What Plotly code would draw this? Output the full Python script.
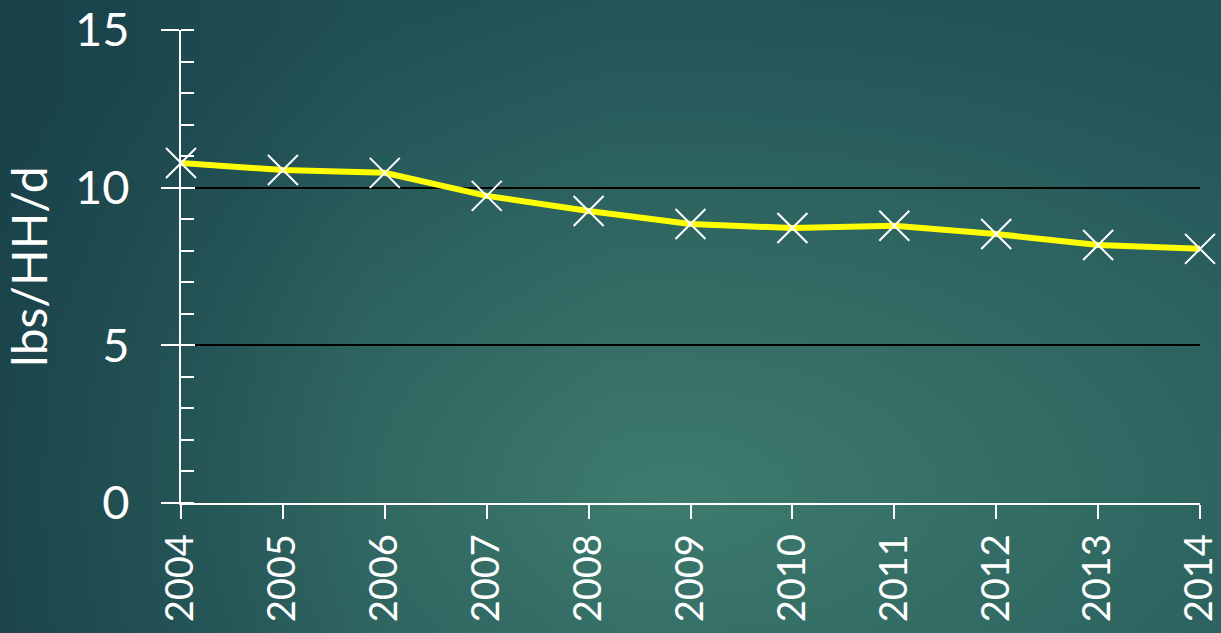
import base64
import plotly.graph_objects as go

years = [2004, 2005, 2006, 2007, 2008, 2009, 2010, 2011, 2012, 2013, 2014]
lbs_per_hh_day = [10.78, 10.56, 10.47, 9.74, 9.26, 8.85, 8.72, 8.79, 8.53, 8.18, 8.06]
y_tick_vals = [0, 5, 10, 15]
y_title = "lbs/HH/d"

FONT = "Lato"
W, H = 1221, 633
ML, MR, MT, MB = 181, 21, 30, 130
PW, PH = W - ML - MR, H - MT - MB

svg = f'''<svg xmlns="http://www.w3.org/2000/svg" width="{W}" height="{H}" viewBox="0 0 {W} {H}" preserveAspectRatio="none">
<defs>
<radialGradient id="g" cx="0.55" cy="0.78" r="0.8" gradientUnits="objectBoundingBox">
<stop offset="0" stop-color="#3e7a6d"/>
<stop offset="0.55" stop-color="#2e6561"/>
<stop offset="1" stop-color="#225358"/>
</radialGradient>
<linearGradient id="l" x1="0" y1="0" x2="1" y2="0">
<stop offset="0" stop-color="#12343f" stop-opacity="0.6"/>
<stop offset="0.3" stop-color="#12343f" stop-opacity="0.12"/>
<stop offset="0.5" stop-color="#12343f" stop-opacity="0"/>
</linearGradient>
</defs>
<rect width="{W}" height="{H}" fill="url(#g)"/>
<rect width="{W}" height="{H}" fill="url(#l)"/>
</svg>'''
bg = "data:image/svg+xml;base64," + base64.b64encode(svg.encode()).decode()

fig = go.Figure()
fig.add_trace(go.Scatter(
    x=years, y=lbs_per_hh_day, mode="lines+markers",
    line=dict(color="#ffff00", width=6),
    marker=dict(symbol="x-thin", size=30, line=dict(color="white", width=2), color="white"),
    cliponaxis=False, showlegend=False,
))
# helper trace for the inside half of the major y ticks
fig.add_trace(go.Scatter(
    x=years, y=lbs_per_hh_day, yaxis="y2", mode="lines",
    line=dict(width=0), opacity=0, showlegend=False, hoverinfo="skip",
))

fig.update_layout(
    template="none",
    width=W, height=H, autosize=False,
    margin=dict(l=ML, r=MR, t=MT, b=MB, pad=0),
    paper_bgcolor="#245458", plot_bgcolor="rgba(0,0,0,0)",
    images=[dict(source=bg, xref="paper", yref="paper", x=-ML/PW, y=1 + MT/PH,
                 sizex=W/PW, sizey=H/PH, xanchor="left", yanchor="top",
                 sizing="stretch", layer="below")],
    font=dict(family=FONT, color="white"),
    xaxis=dict(
        range=[2004, 2014], tickmode="array", tickvals=years,
        ticktext=[str(y) for y in years], tickangle=-90, automargin=False,
        ticks="outside", ticklen=14, tickwidth=2, tickcolor="white",
        showline=True, linecolor="white", linewidth=2,
        showgrid=False, zeroline=False, ticklabeloverflow="allow",
        tickfont=dict(family=FONT, size=38, color="white"),
    ),
    yaxis=dict(
        range=[0, 15], tickmode="array", tickvals=y_tick_vals, automargin=False,
        ticks="outside", ticklen=18, tickwidth=2, tickcolor="white",
        ticklabelstandoff=22, ticklabeloverflow="allow",
        minor=dict(dtick=1, ticks="inside", ticklen=13, tickwidth=2, tickcolor="white", showgrid=False),
        showline=True, linecolor="white", linewidth=2,
        showgrid=True, gridcolor="black", gridwidth=2, zeroline=False,
        tickfont=dict(family=FONT, size=47, color="white"),
        title=dict(text=y_title, font=dict(family=FONT, size=48, color="white"), standoff=12),
    ),
    yaxis2=dict(
        overlaying="y", side="left", range=[0, 15], tickmode="array", tickvals=y_tick_vals,
        ticks="inside", ticklen=14, tickwidth=2, tickcolor="white", automargin=False,
        showticklabels=False, showgrid=False, showline=False, zeroline=False,
    ),
)

fig.write_html("out.html", config={"displayModeBar": False})
with open("out.html", encoding="utf-8") as f:
    html = f.read()
html = html.replace("<head>", "<head><style>html,body{margin:0;padding:0;overflow:hidden;background:#245458;}</style>", 1)
with open("out.html", "w", encoding="utf-8") as f:
    f.write(html)
